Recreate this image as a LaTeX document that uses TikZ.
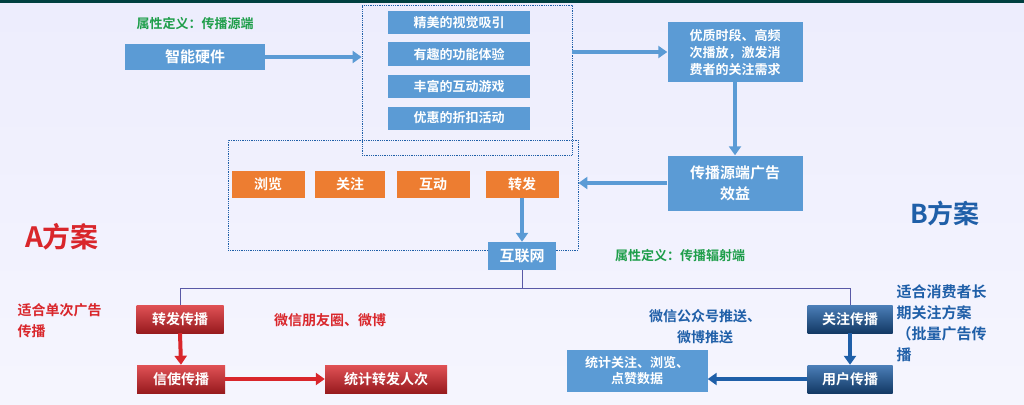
\documentclass[tikz,border=0pt]{standalone}
\usepackage{fontspec}
\setmainfont{Noto Sans CJK SC Bold}
\usetikzlibrary{arrows.meta}
\definecolor{bl}{HTML}{5B9BD5}
\definecolor{dbl}{HTML}{1F5FA8}
\definecolor{org}{HTML}{ED7D31}
\definecolor{rd}{HTML}{D9262B}
\definecolor{gr}{HTML}{1E9E4A}
\begin{document}
\begin{tikzpicture}[x=1pt,y=-1pt,
 box/.style={fill=bl,text=white,font=\fontsize{15}{18}\selectfont,inner sep=0pt,align=center},
 ibox/.style={fill=bl,text=white,font=\fontsize{13}{15}\selectfont,inner sep=0pt},
 obox/.style={fill=org,text=white,font=\fontsize{14}{16}\selectfont,inner sep=0pt},
 rbox/.style={top color=rd!80,bottom color=rd!70!black,text=white,font=\fontsize{14}{16}\selectfont,inner sep=0pt},
 dbox/.style={top color=dbl!80,bottom color=dbl!60!black,text=white,font=\fontsize{14}{16}\selectfont,inner sep=0pt},
 dot/.style={draw=dbl,densely dotted,line width=0.8pt},
 arr/.style={-{Triangle[length=9pt,width=12pt]},line width=4pt,draw=bl},
 rarr/.style={-{Triangle[length=9pt,width=12pt]},line width=4pt,draw=rd},
 darr/.style={-{Triangle[length=9pt,width=12pt]},line width=4pt,draw=dbl},
 lbl/.style={font=\fontsize{14}{21}\selectfont,align=left}]
\useasboundingbox (0,0) rectangle (1024,404);
\shade[top color=gray!22!blue!8, bottom color=gray!10!blue!4] (0,0) rectangle (1024,404);
\fill[teal!50!black] (0,0) rectangle (1024,3);
\node[font=\fontsize{13}{15}\selectfont,text=gr] (t1) at (195,24) {属性定义：传播源端};
\node[box,minimum width=140,minimum height=25] (hw) at (195,57) {智能硬件};
\node[dot,minimum width=210,minimum height=150] (d1) at (467,80) {};
\node[ibox,minimum width=142,minimum height=23] (c1) at (459,23) {精美的视觉吸引};
\node[ibox,minimum width=142,minimum height=23] (c2) at (459,54) {有趣的功能体验};
\node[ibox,minimum width=142,minimum height=23] (c3) at (459,86) {丰富的互动游戏};
\node[ibox,minimum width=142,minimum height=23] (c4) at (459,118) {优惠的折扣活动};
\draw[arr] (hw.east) -- (hw.east -| d1.west);
\node[box,minimum width=135,minimum height=60,font=\fontsize{13}{17}\selectfont] (q) at (735,52) {优质时段、高频\\次播放，激发消\\费者的关注需求};
\draw[arr] (d1.east |- q.west) -- (q.west);
\node[box,minimum width=135,minimum height=55,font=\fontsize{15}{21}\selectfont] (e) at (735,183) {传播源端广告\\效益};
\draw[arr] (q.south) -- (e.north);
\node[dot,minimum width=350,minimum height=110] (d2) at (403,195) {};
\draw[arr] (e.west) -- (e.west -| d2.east);
\node[obox,minimum width=73,minimum height=27] (o1) at (268,184) {浏览};
\node[obox,minimum width=70,minimum height=27] (o2) at (350,184) {关注};
\node[obox,minimum width=73,minimum height=27] (o3) at (433,184) {互动};
\node[obox,minimum width=73,minimum height=27] (o4) at (522,184) {转发};
\node[box,minimum width=68,minimum height=28] (net) at (522,256) {互联网};
\draw[arr] (o4.south) -- (net.north);
\node[font=\fontsize{13}{15}\selectfont,text=gr] (t2) at (680,256) {属性定义：传播辐射端};
\coordinate (j) at (522,288);
\coordinate (jl) at (180,288);
\coordinate (jr) at (850,288);
\node[rbox,minimum width=87,minimum height=28] (zf) at (180,319) {转发传播};
\node[rbox,minimum width=88,minimum height=28] (xs) at (181,379) {信使传播};
\node[rbox,minimum width=122,minimum height=28] (tj) at (386,379) {统计转发人次};
\node[dbox,minimum width=85,minimum height=28] (gz) at (850,319) {关注传播};
\node[dbox,minimum width=85,minimum height=28] (yh) at (850,379) {用户传播};
\node[box,minimum width=141,minimum height=42,font=\fontsize{13}{16}\selectfont] (sj) at (637,371) {统计关注、浏览、\\点赞数据};
\draw[gray!70!blue,line width=0.8pt] (net.south) -- (j) (jl) -- (jr) (jl) -- (zf.north) (jr) -- (gz.north);
\draw[rarr] (zf.south) -- (xs.north);
\draw[rarr] (xs.east) -- (tj.west);
\draw[darr] (gz.south) -- (yh.north);
\draw[darr] (yh.west) -- (yh.west -| sj.east);
\node[font=\fontsize{28}{32}\selectfont,text=rd] (A) at (62,237) {A方案};
\node[font=\fontsize{26}{30}\selectfont,text=dbl] (B) at (945,213) {B方案};
\node[lbl,text=rd,anchor=west] (la) at (14,321) {适合单次广告\\传播};
\node[lbl,text=rd] (wx) at (330,320) {微信朋友圈、微博};
\node[lbl,text=dbl,align=center] (wg) at (705,327) {微信公众号推送、\\微博推送};
\node[lbl,text=dbl,anchor=west,font=\fontsize{15}{21}\selectfont] (lb) at (893,323) {适合消费者长\\期关注方案\\（批量广告传\\播};
\end{tikzpicture}
\end{document}
